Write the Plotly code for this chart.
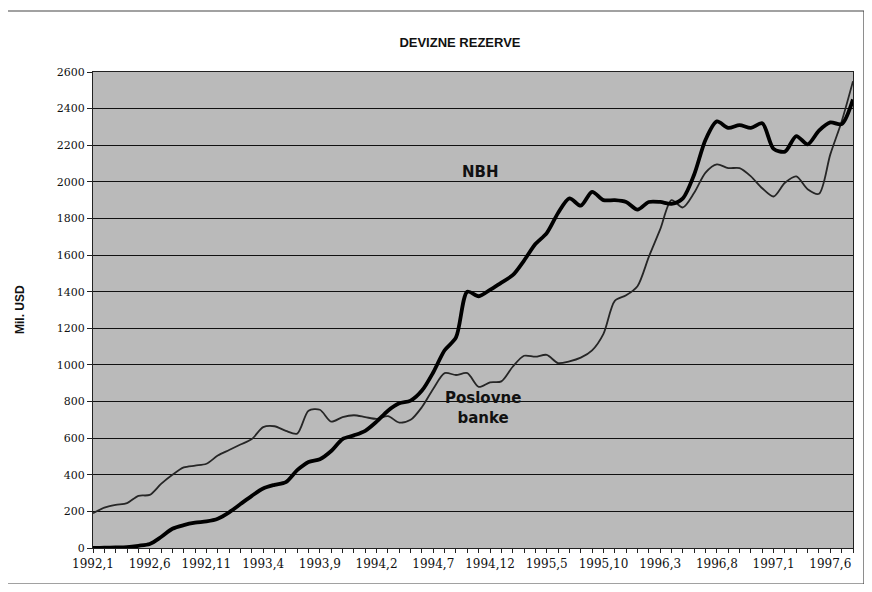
import plotly.graph_objects as go

# Monthly data, 1992,1 ... 1997,8
months = [f"{1992 + i // 12},{i % 12 + 1}" for i in range(68)]

nbh = [0, 2, 3, 5, 12, 22, 60, 105, 125, 138,
       145, 160, 195, 240, 285, 325, 345, 360, 425, 470,
       485, 530, 595, 615, 640, 690, 750, 790, 805, 860,
       960, 1080, 1150, 1400, 1375, 1410, 1450, 1490, 1570, 1660,
       1720, 1830, 1910, 1870, 1945, 1900, 1900, 1890, 1848, 1890,
       1890, 1880, 1910, 2040, 2230, 2330, 2295, 2310, 2295, 2320,
       2180, 2165, 2250, 2205, 2280, 2325, 2315, 2450]

banke = [190, 220, 235, 245, 285, 290, 350, 400, 440, 450,
         460, 505, 535, 565, 595, 660, 665, 640, 625, 750,
         755, 690, 715, 725, 715, 705, 720, 685, 700, 770,
         870, 955, 945, 955, 880, 905, 910, 990, 1050, 1045,
         1055, 1010, 1020, 1040, 1080, 1170, 1350, 1380, 1430, 1590,
         1740, 1900, 1860, 1940, 2050, 2095, 2075, 2075, 2030, 1965,
         1920, 1995, 2030, 1960, 1935, 2150, 2330, 2550]

tick_idx = list(range(0, 68, 5))
tick_text = [months[i] for i in tick_idx]
y_ticks = list(range(0, 2601, 200))

x = list(range(len(months)))

fig = go.Figure()
fig.add_trace(go.Scatter(x=x, y=banke, mode="lines", name="Poslovne banke",
                         line=dict(color="#262626", width=1.8, shape="spline", smoothing=0.8)))
fig.add_trace(go.Scatter(x=x, y=nbh, mode="lines", name="NBH",
                         line=dict(color="#000000", width=3.8, shape="spline", smoothing=0.8)))

# page body has an 8px margin, so the figure is sized/offset to compensate
fig.update_layout(
    width=856, height=576,
    margin=dict(l=85, r=11, t=64, b=36),
    paper_bgcolor="white",
    plot_bgcolor="#bababa",
    showlegend=False,
    font=dict(family="DejaVu Serif", size=12, color="#111"),
    title=dict(text="<b>DEVIZNE REZERVE</b>", x=0.528, xanchor="center",
               y=1 - 34 / 576, yanchor="middle",
               font=dict(family="Liberation Sans", size=13, color="#111")),
)

fig.update_xaxes(
    range=[0, 67], tickvals=tick_idx, ticktext=tick_text,
    showgrid=False, zeroline=False,
    showline=True, linecolor="#222", linewidth=1.2, mirror=True,
    ticks="outside", ticklen=4, tickcolor="#222",
    minor=dict(dtick=1, ticks="outside", ticklen=4, tickcolor="#222", showgrid=False),
    tickfont=dict(family="DejaVu Serif", size=12, color="#111"),
)
fig.update_yaxes(
    range=[0, 2600], tickvals=y_ticks,
    showgrid=True, gridcolor="#111", gridwidth=1,
    zeroline=False,
    showline=True, linecolor="#222", linewidth=1.2, mirror=True,
    ticks="outside", ticklen=5, tickcolor="#222",
    tickfont=dict(family="DejaVu Serif", size=11, color="#111"),
)

fig.add_annotation(x=34.2, y=2054, xref="x", yref="y", text="<b>NBH</b>",
                   showarrow=False, font=dict(family="DejaVu Sans", size=15, color="#111"))
fig.add_annotation(x=34.4, y=765, xref="x", yref="y", text="<b>Poslovne<br>banke</b>",
                   showarrow=False, align="center",
                   font=dict(family="DejaVu Sans", size=15, color="#111"))
fig.add_annotation(x=(20 - 93) / 760, y=0.5, xref="paper", yref="paper",
                   xanchor="center", yanchor="middle",
                   text="<b>Mil. USD</b>", textangle=-90, showarrow=False,
                   font=dict(family="Liberation Sans", size=12, color="#111"))

# outer frame
fig.add_shape(type="rect", xref="paper", yref="paper",
              x0=(5 - 93) / 760, x1=(864 - 93) / 760,
              y0=(548 - 584) / 476, y1=(548 - 11) / 476,
              line=dict(color="#444", width=1.2))

fig.write_html("out.html")
